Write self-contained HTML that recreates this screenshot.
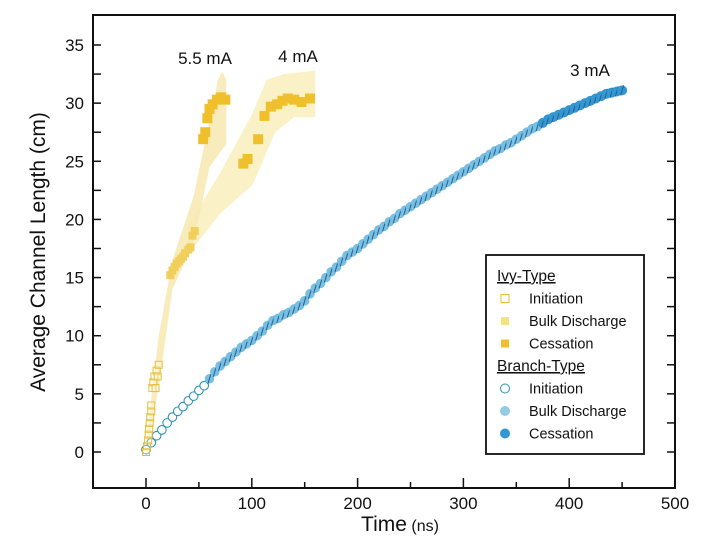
<!DOCTYPE html>
<html><head><meta charset="utf-8"><style>
html,body{margin:0;padding:0;background:#fff;}
svg{display:block;font-family:"Liberation Sans",Arial,sans-serif;}
</style></head><body>
<svg id="chart" width="713" height="541" viewBox="0 0 713 541" xmlns="http://www.w3.org/2000/svg"></svg>
<script>
const xTicks=[0,100,200,300,400,500];
const yTicks=[0,5,10,15,20,25,30,35];
const branchTimes=[0,5,10,15,20,25,30,35,40,45,50,55,60,65,70,75,80,85,90,95,100,105,110,115,120,125,130,135,140,145,150,155,160,165,170,175,180,185,190,195,200,205,210,215,220,225,230,235,240,245,250,255,260,265,270,275,280,285,290,295,300,305,310,315,320,325,330,335,340,345,350,355,360,365,370,375,380,385,390,395,400,405,410,415,420,425,430,435,440,445,450];
const branchValues=[0.2,0.8,1.4,1.9,2.5,3.0,3.5,3.9,4.4,4.8,5.3,5.7,6.3,6.9,7.4,7.8,8.2,8.6,9.0,9.3,9.6,10.0,10.4,10.9,11.3,11.5,11.8,12.0,12.3,12.6,13.0,13.6,14.1,14.5,15.0,15.5,15.9,16.4,16.9,17.2,17.5,17.9,18.3,18.7,19.1,19.4,19.8,20.1,20.5,20.8,21.1,21.4,21.7,22.0,22.3,22.6,22.9,23.2,23.5,23.8,24.1,24.4,24.7,25.0,25.3,25.6,25.9,26.1,26.4,26.6,26.9,27.2,27.5,27.8,28.0,28.3,28.6,28.8,29.0,29.2,29.4,29.6,29.8,30.0,30.2,30.4,30.6,30.8,30.9,31.0,31.1];
const ivyInitT=[0,1,2,2.5,3,3.5,4,5,5,6,7,8,9,10,11,12];
const ivyInitV=[0,0.5,1,1.5,2,2.5,3,3.5,4,5.5,6,6.5,5.5,7,6.5,7.5];
const ivyBulkT=[23,25,27,29,31,33,35,37,40,42,44,46];
const ivyBulkV=[15.2,15.6,15.9,16.2,16.4,16.6,16.8,17.1,17.4,17.6,18.6,19];
const ivy55CessT=[54,56,58,60,63,67,71,75];
const ivy55CessV=[26.9,27.5,28.7,29.5,29.9,30.3,30.5,30.3];
const ivy4CessT=[92,96,106,112,118,124,129,134,140,147,155];
const ivy4CessV=[24.8,25.2,26.9,28.9,29.7,29.9,30.2,30.4,30.3,30.1,30.4];
const band55Upper=[[0,0.8],[12,10],[25,16.5],[45,22],[60,28.5],[68,32],[72,32.7],[76,32]];
const band55Lower=[[76,26.5],[60,24.5],[45,18],[25,14],[12,5.5],[0,-0.3]];
const band4Upper=[[40,19.5],[70,24],[100,29],[114,32],[130,32.5],[160,32.8]];
const band4Lower=[[160,28.8],[140,28.8],[122,27.5],[101,23],[70,20.5],[40,17]];

const L=93,R=675,T=15,B=488;
const X=t=>146+t*(675-146)/500;
const Y=v=>452-v*(452-45)/35;
const svg=document.getElementById('chart');
const NS='http://www.w3.org/2000/svg';
function mk(tag,attrs,parent){const e=document.createElementNS(NS,tag);for(const k in attrs)e.setAttribute(k,attrs[k]);(parent||svg).appendChild(e);return e;}

function bandPath(up,lo){return 'M'+up.concat(lo).map(p=>X(p[0]).toFixed(1)+','+Y(p[1]).toFixed(1)).join('L')+'Z';}
let b1=mk('path',{d:bandPath(band4Upper,band4Lower),fill:'#f9eebc',opacity:'0.85'});


let b2=mk('path',{d:bandPath(band55Upper,band55Lower),fill:'#f7e9b0',opacity:'0.85'});



let fr=mk('rect',{x:L,y:T,width:R-L,height:B-T,fill:'none',stroke:'#111','stroke-width':2});


for(let v=0;v<=35;v+=2.5){const y=Y(v);
 mk('line',{x1:L,x2:L+8,y1:y,y2:y,stroke:'#111','stroke-width':1.5});
 mk('line',{x1:R,x2:R-8,y1:y,y2:y,stroke:'#111','stroke-width':1.5});}
yTicks.forEach(v=>{const t=mk('text',{x:L-9,y:Y(v)+6,'text-anchor':'end','font-size':17,fill:'#111'});t.textContent=v;
 
 });
for(let t=0;t<=500;t+=50){const x=X(t);mk('line',{x1:x,x2:x,y1:B,y2:B-(t%100==0?10:6),stroke:'#111','stroke-width':1.5});}
xTicks.forEach(v=>{const t=mk('text',{x:X(v),y:B+21,'text-anchor':'middle','font-size':17,fill:'#111'});t.textContent=v;
 
 });

let yt=mk('text',{x:0,y:0,transform:'translate(45,252) rotate(-90)','text-anchor':'middle','font-size':21,fill:'#111'});
yt.textContent='Average Channel Length (cm)';


let xt=mk('text',{x:400,y:531,'text-anchor':'middle','font-size':21,fill:'#111'});
xt.innerHTML='Time<tspan font-size="16"> (ns)</tspan>';



branchTimes.forEach((t,i)=>{const v=branchValues[i];const x=X(t),y=Y(v);
 let c;
 if(t<=55){c=mk('circle',{cx:x,cy:y,r:4.3,fill:'#fff',stroke:'#2c93b8','stroke-width':1.1});}
 else if(t<=370){c=mk('circle',{cx:x,cy:y,r:4.8,fill:'#78bfe4'});}
 else{c=mk('circle',{cx:x,cy:y,r:5,fill:'#3397d4'});}
 
 
 if(t>55){mk('line',{x1:x-1.5,x2:x+1.5,y1:y+5,y2:y-5,stroke:'#2a5f86','stroke-width':1});}
});
ivyInitT.forEach((t,i)=>{const s=mk('rect',{x:X(t)-3.5,y:Y(ivyInitV[i])-3.5,width:7,height:7,fill:'#fff','fill-opacity':0.3,stroke:'#e6bf3a','stroke-width':1});
 
 });
ivyBulkT.forEach((t,i)=>{const s=mk('rect',{x:X(t)-4,y:Y(ivyBulkV[i])-4,width:8,height:8,fill:'#f1cf5a'});
 
 });
ivy55CessT.forEach((t,i)=>{const s=mk('rect',{x:X(t)-5,y:Y(ivy55CessV[i])-5,width:10,height:10,fill:'#f0c02c'});
 
 });
ivy4CessT.forEach((t,i)=>{const s=mk('rect',{x:X(t)-5,y:Y(ivy4CessV[i])-5,width:10,height:10,fill:'#f0c02c'});
 
 });

[['5.5 mA',205,64,'label-5-5ma'],['4 mA',298,62,'label-4ma'],['3 mA',590,76,'label-3ma']].forEach(a=>{
 const t=mk('text',{x:a[1],y:a[2],'text-anchor':'middle','font-size':17,fill:'#111'});t.textContent=a[0];
 
 });

const g=mk('g',{});


mk('rect',{x:486,y:255,width:158,height:199,fill:'#fff',stroke:'#111','stroke-width':1.8},g);
const items=[['h','Ivy-Type'],['sq0','Initiation'],['sq1','Bulk Discharge'],['sq2','Cessation'],['h','Branch-Type'],['c0','Initiation'],['c1','Bulk Discharge'],['c2','Cessation']];
items.forEach((it,i)=>{const y=276+i*22.5;
 if(it[0]=='h'){const t=mk('text',{x:497,y:y+5,'font-size':15.5,fill:'#111','text-decoration':'underline'},g);t.textContent=it[1];
  
  return;}
 let m;
 if(it[0]=='sq0')m=mk('rect',{x:501,y:y-4,width:8,height:8,fill:'#fff',stroke:'#e6bf3a'},g);
 if(it[0]=='sq1')m=mk('rect',{x:501,y:y-4,width:8,height:8,fill:'#f5e08a'},g);
 if(it[0]=='sq2')m=mk('rect',{x:501,y:y-4,width:8,height:8,fill:'#f0c02c'},g);
 if(it[0]=='c0')m=mk('circle',{cx:505,cy:y,r:4.5,fill:'#fff',stroke:'#2c93b8'},g);
 if(it[0]=='c1')m=mk('circle',{cx:505,cy:y,r:5,fill:'#92cbe4'},g);
 if(it[0]=='c2')m=mk('circle',{cx:505,cy:y,r:5,fill:'#3397d4'},g);
 
 
 const t=mk('text',{x:529,y:y+5,'font-size':14.5,fill:'#111'},g);t.textContent=it[1];
 
 
});
</script>
</body></html>
